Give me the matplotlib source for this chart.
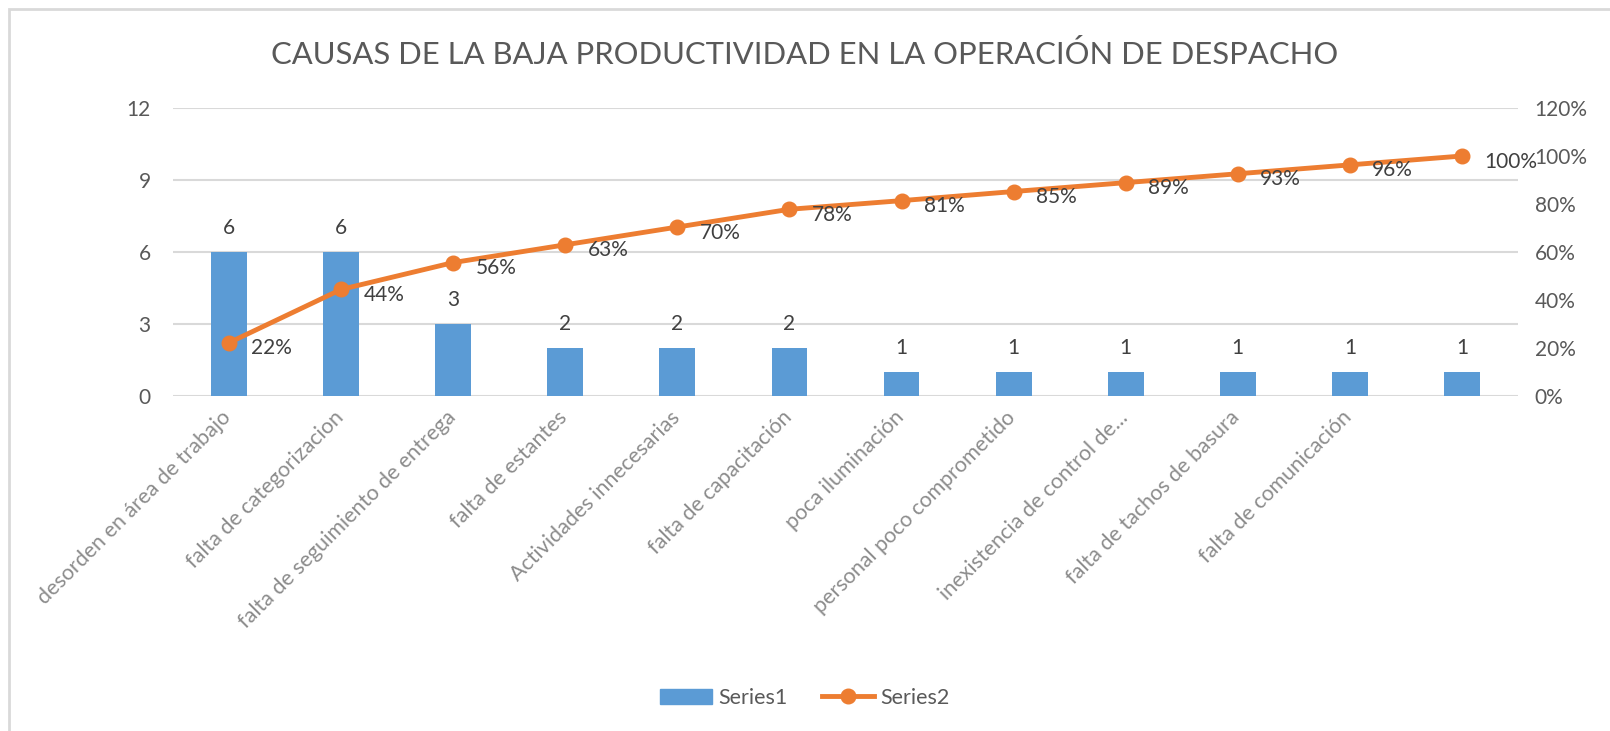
import matplotlib
matplotlib.use('Agg')
import matplotlib.pyplot as plt
import matplotlib.transforms as mtrans
from matplotlib.patches import Rectangle
from matplotlib.lines import Line2D
from matplotlib.ticker import FuncFormatter

#data
causas = ['desorden en área de trabajo', 'falta de categorizacion', 'falta de seguimiento de entrega',
          'falta de estantes', 'Actividades innecesarias', 'falta de capacitación', 'poca iluminación',
          'personal poco comprometido', 'inexistencia de control de...', 'falta de tachos de basura',
          'falta de comunicación', '']
frecuencia = [6, 6, 3, 2, 2, 2, 1, 1, 1, 1, 1, 1]
acumulado = [0.222, 0.444, 0.556, 0.630, 0.704, 0.778, 0.814, 0.852, 0.889, 0.926, 0.963, 1.0]

plt.rcParams['font.family'] = ['Lato', 'DejaVu Sans']
azul = '#5B9BD5'
naranja = '#ED7D31'
gris_txt = '#595959'
gris_grid = '#D9D9D9'

fig = plt.figure(figsize=(16.1, 7.31), dpi=100)
fig.patch.set_facecolor('white')

#border of the chart area (cut at right and bottom)
fig.patches.append(Rectangle((9/1610, -0.05), 1.1, 1 - 9/731 + 0.05, transform=fig.transFigure,
                             fill=False, edgecolor=gris_grid, lw=2))

ax = fig.add_axes([173/1610, 1 - 396/731, 1345/1610, 288/731])
x = list(range(len(causas)))
ax.bar(x, frecuencia, width=0.32, color=azul, zorder=2)
ax.set_xlim(-0.5, len(causas) - 0.5)
ax.set_ylim(0, 12)
ax.set_yticks([0, 3, 6, 9, 12])
ax.grid(axis='y', color=gris_grid, lw=1.5, zorder=0)
ax.set_axisbelow(True)
for s in ax.spines.values():
    s.set_visible(False)
ax.tick_params(axis='both', length=0, labelsize=15, labelcolor=gris_txt)
ax.tick_params(axis='y', pad=16)
ax.set_xticks(x)
ax.set_xticklabels(causas, rotation=45, ha='right', va='top', rotation_mode='anchor',
                   color='#8C8C8C', fontsize=15.5)
ax.tick_params(axis='x', pad=8)
shift = mtrans.ScaledTranslation(-8/100, 0, fig.dpi_scale_trans)
for lab in ax.get_xticklabels():
    lab.set_transform(lab.get_transform() + shift)

for xi, v in zip(x, frecuencia):
    ax.annotate(str(v), (xi, v), xytext=(0, 10), textcoords='offset points',
                ha='center', va='bottom', fontsize=15, color='#404040')

ax2 = ax.twinx()
ax2.plot(x, acumulado, color=naranja, lw=3.5, marker='o', markersize=10.5, zorder=3)
ax2.set_ylim(0, 1.2)
ax2.set_yticks([0, 0.2, 0.4, 0.6, 0.8, 1.0, 1.2])
ax2.yaxis.set_major_formatter(FuncFormatter(lambda v, p: f'{v*100:.0f}%'))
for s in ax2.spines.values():
    s.set_visible(False)
ax2.tick_params(axis='y', length=0, labelsize=15, labelcolor=gris_txt, pad=12)

for xi, v in zip(x, acumulado):
    ax2.annotate(f'{v*100:.0f}%', (xi, v), xytext=(16, -4), textcoords='offset points',
                 ha='left', va='center', fontsize=15, color='#404040')

fig.text(0.5, 1 - 55/731, 'CAUSAS DE LA BAJA PRODUCTIVIDAD EN LA OPERACIÓN DE DESPACHO',
         ha='center', va='center', fontsize=22.3, color=gris_txt)

handles = [Rectangle((0, 0), 1, 1, color=azul),
           Line2D([], [], color=naranja, lw=3.5, marker='o', markersize=10.5)]
fig.legend(handles, ['Series1', 'Series2'], loc='center', bbox_to_anchor=(0.5, 1 - 698/731),
           ncol=2, frameon=False, fontsize=15.5, labelcolor=gris_txt, handlelength=2.4,
           columnspacing=1.6, handletextpad=0.3)

fig.savefig('out.png', dpi=100)
